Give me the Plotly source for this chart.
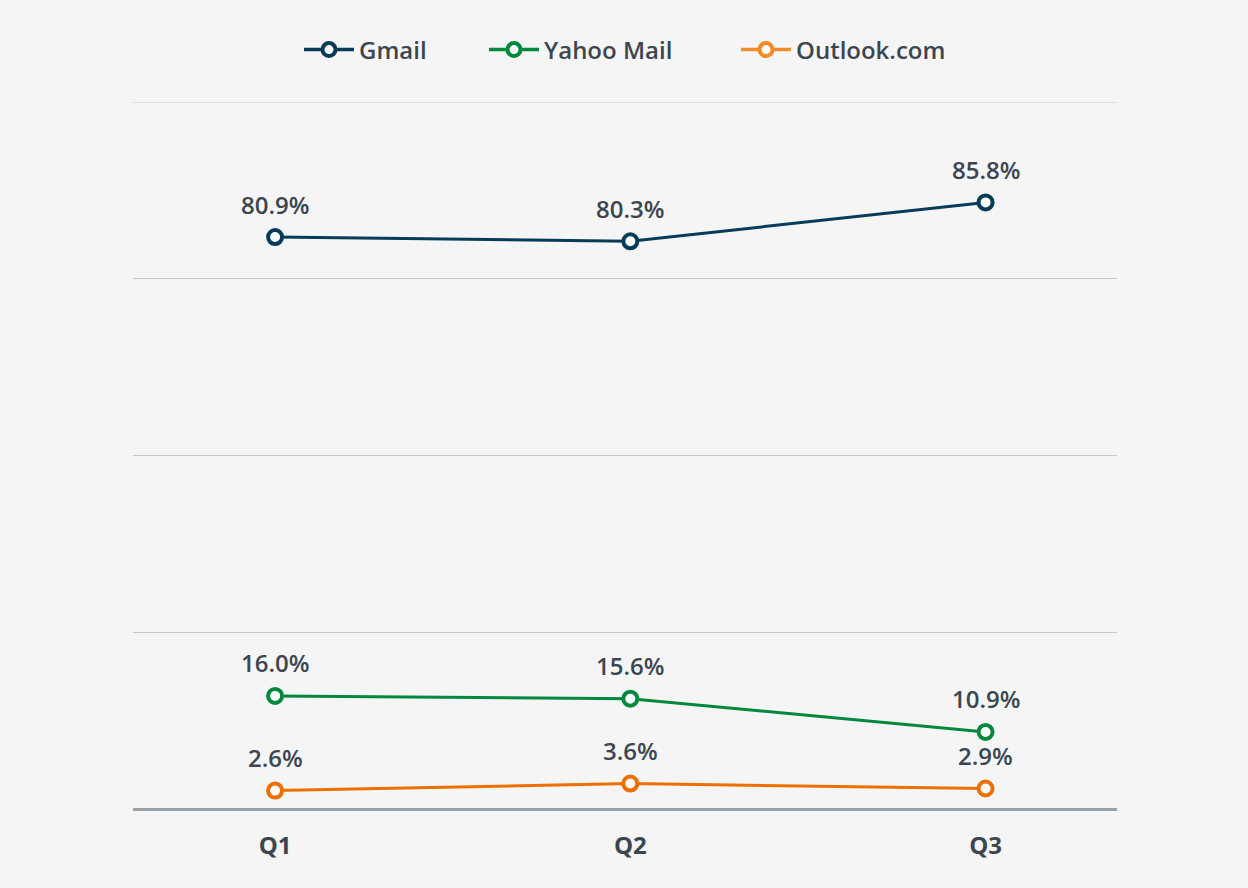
import plotly.graph_objects as go

quarters = ["Q1", "Q2", "Q3"]
gmail = [80.9, 80.3, 85.8]
yahoo = [16.0, 15.6, 10.9]
outlook = [2.6, 3.6, 2.9]

series = [
    ("Gmail", gmail, "#073b57", "#073b57"),
    ("Yahoo Mail", yahoo, "#00893c", "#00893c"),
    ("Outlook.com", outlook, "#ec6f00", "#f28a2a"),
]

label_color = "#3b4650"
font_family = "'Open Sans', Lato, sans-serif"

fig = go.Figure()
for name, vals, col, legcol in series:
    fig.add_trace(go.Scatter(
        x=quarters, y=vals, mode="lines+markers", name=name,
        line=dict(color=col, width=3),
        marker=dict(symbol="circle", size=14, color="white", line=dict(color=col, width=4)),
        showlegend=False, cliponaxis=False,
    ))
    for q, v in zip(quarters, vals):
        fig.add_annotation(x=q, y=v, text=f"{v:.1f}%", showarrow=False, yshift=33,
                           font=dict(size=24, color=label_color, family=font_family, weight=600))

legend_keys = ["legend", "legend2", "legend3"]
legend_x = [299, 484, 736]
for (name, vals, col, legcol), lk in zip(series, legend_keys):
    fig.add_trace(go.Scatter(
        x=[None], y=[None], mode="lines+markers", name=name, legend=lk,
        line=dict(color=legcol, width=3.5),
        marker=dict(symbol="circle", size=13, color="white", line=dict(color=legcol, width=4)),
        showlegend=True,
    ))

# top gridline at 100 (plotly skips gridlines on the range edge)
fig.add_shape(type="line", xref="paper", x0=0, x1=1, yref="y", y0=100, y1=100,
              line=dict(color="#c8c8c8", width=1), layer="below")

fig.update_layout(
    width=1248, height=888,
    paper_bgcolor="#f5f5f5", plot_bgcolor="#f5f5f5",
    margin=dict(l=133, r=131, t=102, b=79, autoexpand=False),
    font=dict(family=font_family, color=label_color),
    xaxis=dict(range=[-0.4, 2.37], showgrid=False, zeroline=False, showline=False,
               tickfont=dict(size=24, color=label_color, weight=700),
               ticks="", ticklabelstandoff=20, fixedrange=True),
    yaxis=dict(range=[0, 100], dtick=25, showticklabels=False, gridcolor="#c8c8c8",
               gridwidth=1, zeroline=True, zerolinecolor="#9aa1a6", zerolinewidth=2.5,
               showline=False, fixedrange=True),
)
for lk, lx in zip(legend_keys, legend_x):
    fig.update_layout({lk: dict(orientation="h", x=lx / 1248, xanchor="left", xref="container",
                                y=1 - 50 / 888, yref="container", yanchor="middle",
                                itemwidth=50,
                                font=dict(size=24, color=label_color, weight=600),
                                bgcolor="rgba(0,0,0,0)")})

fig.write_html("out.html", config={"displayModeBar": False},
               post_script="document.body.style.margin='0';")
